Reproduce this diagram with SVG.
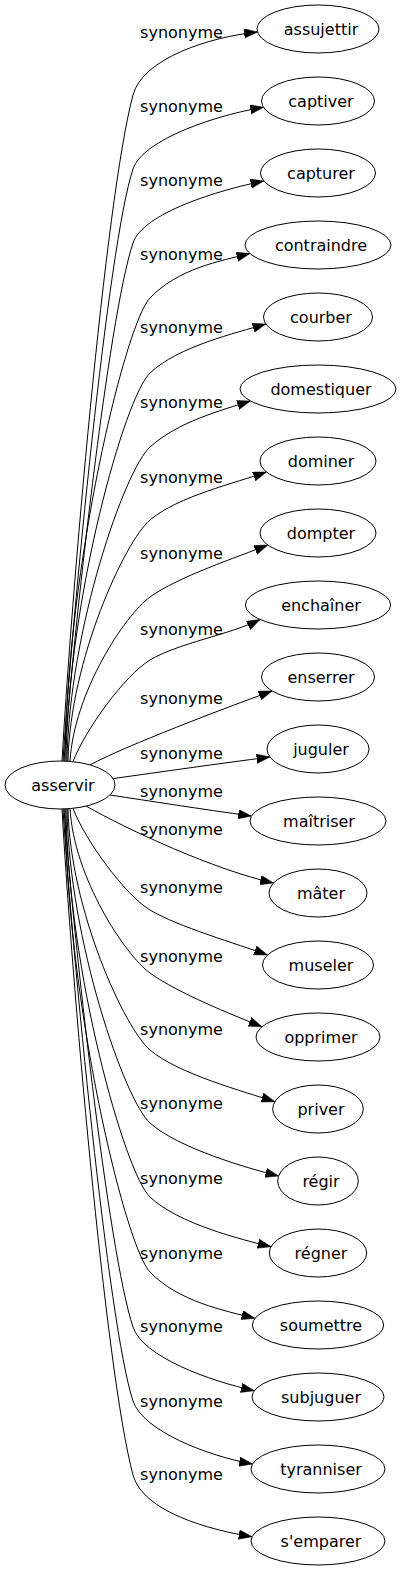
<svg xmlns="http://www.w3.org/2000/svg" width="402" height="1571" viewBox="0 0 402 1571">
<style>
text{font-family:"DejaVu Sans","Liberation Sans",sans-serif;font-size:16px;fill:#000}
.node text{text-anchor:middle}
.node ellipse{fill:#fff;stroke:#000;stroke-width:1}
#connectors path{fill:none;stroke:#000;stroke-width:1;marker-end:url(#ah)}
#connectors text{text-anchor:middle}
</style>
<defs>
<marker id="ah" markerWidth="14" markerHeight="10" refX="13.3" refY="4.7" orient="auto" markerUnits="userSpaceOnUse">
<path d="M0,0 L13.3,4.7 L0,9.4 z" fill="#000" stroke="#000" stroke-width="0.5"/>
</marker>
</defs>
<rect width="402" height="1571" fill="#fff"/>
<g id="connectors">
<g id="e0"><path d="M62,761 C71,601 105,200 133,95 C143,58 210,37 257.5,32"/><text x="181.5" y="37.7">synonyme</text></g>
<g id="e1"><path d="M63,761 C72,619 108,244 133,169 C143,139 218.5,114.5 263.5,107.3"/><text x="181.5" y="111.7">synonyme</text></g>
<g id="e2"><path d="M64,761.1 C73,636.7 108,318 133,243 C143,213 218.8,190 263.8,181"/><text x="181.5" y="186">synonyme</text></g>
<g id="e3"><path d="M65,761.1 C67,566.6 125,324.25 150,298 C178,268.6 219.8,261.1 249.8,253.6"/><text x="181.5" y="260">synonyme</text></g>
<g id="e4"><path d="M66,761.1 C68,598.1 125,396.75 150,373 C178,346.4 235.9,333 265.9,324"/><text x="181.5" y="333">synonyme</text></g>
<g id="e5"><path d="M67,761.2 C69,629.2 125,469.5 150,447 C178,421.8 220.4,410.6 250.4,401"/><text x="181.5" y="407.7">synonyme</text></g>
<g id="e6"><path d="M68,761.3 C70,659.9 125,541.25 150,520 C178,496.2 236.4,482.8 266.4,472"/><text x="181.5" y="482.7">synonyme</text></g>
<g id="e7"><path d="M70,761.4 C74,692.4 125,615 150,597 C178,576.8 237.8,557 267.8,545"/><text x="181.5" y="558.7">synonyme</text></g>
<g id="e8"><path d="M73,761.6 C85,730 125,675 150,660 C178,643.2 230.1,634.5 260.1,619.5"/><text x="181.5" y="635">synonyme</text></g>
<g id="e9"><path d="M90,764.9 C125,746 225,708 272.1,691"/><text x="181.5" y="704.3">synonyme</text></g>
<g id="e10"><path d="M113,778.6 C160,772 220,763.5 269.9,757"/><text x="181.5" y="759.3">synonyme</text></g>
<g id="e11"><path d="M110,795 C150,801 200,809 251.5,816"/><text x="181.5" y="796.7">synonyme</text></g>
<g id="e12"><path d="M86,806 C128,830 215,870 273.5,883"/><text x="181.5" y="835.3">synonyme</text></g>
<g id="e13"><path d="M73,808.4 C85,840 125,895 150,910 C178,926.8 237.5,943.9 267.5,955"/><text x="181.5" y="893.3">synonyme</text></g>
<g id="e14"><path d="M70,808.6 C74,877.6 125,955 150,973 C178,993.2 232,1014.7 262,1026.7"/><text x="181.5" y="962">synonyme</text></g>
<g id="e15"><path d="M68,808.7 C70,910.1 125,1028.75 150,1050 C178,1073.8 244.8,1091.8 274.8,1101.7"/><text x="181.5" y="1035.3">synonyme</text></g>
<g id="e16"><path d="M67,808.8 C69,940.8 125,1100.5 150,1123 C178,1148.2 248.6,1168.5 278.6,1176"/><text x="181.5" y="1109.3">synonyme</text></g>
<g id="e17"><path d="M66,808.9 C68,971.9 125,1173.25 150,1197 C178,1223.6 241,1239.5 271,1246.7"/><text x="181.5" y="1184.3">synonyme</text></g>
<g id="e18"><path d="M65,808.9 C67,1003.4 125,1245.75 150,1272 C178,1301.4 224.9,1310.8 254.9,1318.3"/><text x="181.5" y="1258.7">synonyme</text></g>
<g id="e19"><path d="M64,808.9 C73,933.3 108,1252 133,1327 C143,1357 209.3,1380.8 254.3,1390.7"/><text x="181.5" y="1332">synonyme</text></g>
<g id="e20"><path d="M63,809 C72,951 108,1325 133,1401 C143,1431 207.5,1455.9 252.5,1464"/><text x="181.5" y="1406.7">synonyme</text></g>
<g id="e21"><path d="M62,809 C71,969 105,1370 133,1475 C143,1512 210,1530 252.1,1536.7"/><text x="181.5" y="1480">synonyme</text></g>
</g>
<g id="n-asservir" class="node"><ellipse cx="60" cy="785" rx="55" ry="24"/><text x="63" y="791">asservir</text></g>
<g id="n-assujettir" class="node"><ellipse cx="318" cy="29" rx="61" ry="24"/><text x="321" y="35">assujettir</text></g>
<g id="n-captiver" class="node"><ellipse cx="318" cy="101" rx="56.5" ry="24"/><text x="321" y="107">captiver</text></g>
<g id="n-capturer" class="node"><ellipse cx="318" cy="173" rx="57.5" ry="24"/><text x="321" y="179">capturer</text></g>
<g id="n-contraindre" class="node"><ellipse cx="318" cy="245" rx="73" ry="24"/><text x="321" y="251">contraindre</text></g>
<g id="n-courber" class="node"><ellipse cx="318" cy="317" rx="54.5" ry="24"/><text x="321" y="323">courber</text></g>
<g id="n-domestiquer" class="node"><ellipse cx="318" cy="389" rx="78" ry="24"/><text x="321" y="395">domestiquer</text></g>
<g id="n-dominer" class="node"><ellipse cx="318" cy="461" rx="58" ry="24"/><text x="321" y="467">dominer</text></g>
<g id="n-dompter" class="node"><ellipse cx="318" cy="533" rx="58" ry="24"/><text x="321" y="539">dompter</text></g>
<g id="n-enchainer" class="node"><ellipse cx="318" cy="605" rx="72.7" ry="24"/><text x="321" y="611">enchaîner</text></g>
<g id="n-enserrer" class="node"><ellipse cx="318" cy="677" rx="56.5" ry="24"/><text x="321" y="683">enserrer</text></g>
<g id="n-juguler" class="node"><ellipse cx="318" cy="749" rx="51" ry="24"/><text x="321" y="755">juguler</text></g>
<g id="n-maitriser" class="node"><ellipse cx="318" cy="821" rx="68" ry="24"/><text x="319" y="827">maîtriser</text></g>
<g id="n-mater" class="node"><ellipse cx="318" cy="893" rx="49" ry="24"/><text x="321" y="899">mâter</text></g>
<g id="n-museler" class="node"><ellipse cx="318" cy="965" rx="55.5" ry="24"/><text x="321" y="971">museler</text></g>
<g id="n-opprimer" class="node"><ellipse cx="318" cy="1037" rx="62" ry="24"/><text x="321" y="1043">opprimer</text></g>
<g id="n-priver" class="node"><ellipse cx="318" cy="1109" rx="45.3" ry="24"/><text x="321" y="1115">priver</text></g>
<g id="n-regir" class="node"><ellipse cx="318" cy="1181" rx="40.3" ry="24"/><text x="321" y="1187">régir</text></g>
<g id="n-regner" class="node"><ellipse cx="318" cy="1253" rx="48.7" ry="24"/><text x="321" y="1259">régner</text></g>
<g id="n-soumettre" class="node"><ellipse cx="318" cy="1325" rx="65.7" ry="24"/><text x="321" y="1331">soumettre</text></g>
<g id="n-subjuguer" class="node"><ellipse cx="318" cy="1397" rx="66" ry="24"/><text x="321" y="1403">subjuguer</text></g>
<g id="n-tyranniser" class="node"><ellipse cx="318" cy="1469" rx="67" ry="24"/><text x="321" y="1475">tyranniser</text></g>
<g id="n-semparer" class="node"><ellipse cx="318" cy="1541" rx="67" ry="24"/><text x="321" y="1547">s'emparer</text></g>
</svg>
